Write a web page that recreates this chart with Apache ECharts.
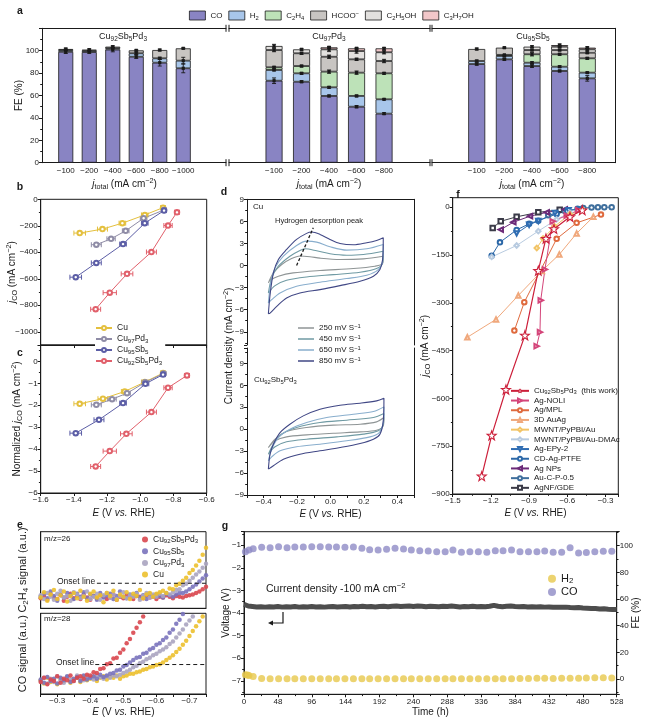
<!DOCTYPE html>
<html>
<head>
<meta charset="utf-8">
<script src="https://cdn.jsdelivr.net/npm/echarts@6/dist/echarts.min.js"></script>
<style>html,body{margin:0;padding:0;background:#fff;}#chart{width:651px;height:721px;}</style>
</head>
<body>
<div id="chart"></div>
<script>
// ================= DATA =================
// ---- Panel a: FE (%) stacked bars ----
const aCats1 = ['-100','-200','-400','-600','-800','-1000'];
const aCats2 = ['-100','-200','-400','-600','-800'];
const aCats3 = ['-100','-200','-400','-600','-800'];
const aProducts = ['CO','H_{2}','C_{2}H_{4}','HCOO^{−}','C_{2}H_{5}OH','C_{3}H_{7}OH'];
const aGroupNames = ['Cu_{92}Sb_{5}Pd_{3}','Cu_{97}Pd_{3}','Cu_{95}Sb_{5}'];
// Cu92Sb5Pd3
const a1CO=[99.0,98.8,101.0,94.6,89.3,84.3], a1H2=[1.5,1.2,1.2,3.1,3.9,6.8], a1C2H4=[0,0,0,0,0,0],
      a1HCOO=[1.0,0.9,1.4,2.6,7.4,11.0], a1C2H5OH=[0,0,0,0,0,0], a1C3H7OH=[0,0,0,0,0,0];
const a1COe=[1.5,1.2,2.0,1.5,3.0,4.0], a1H2e=[0,0,0,1.0,1.0,3.0], a1C2H4e=[0,0,0,0,0,0],
      a1HCOOe=[0.8,0.8,0.8,0.5,0.8,0.5], a1C2H5OHe=[0,0,0,0,0,0], a1C3H7OHe=[0,0,0,0,0,0];
// Cu97Pd3
const a2CO=[73.2,72.3,59.6,50.0,43.8], a2H2=[9.6,7.5,7.7,9.6,12.8], a2C2H4=[2.4,6.5,14.0,20.8,23.2],
      a2HCOO=[15.4,11.4,13.3,11.9,11.0], a2C2H5OH=[3.6,3.5,6.6,7.4,7.8], a2C3H7OH=[0,0,1.8,2.4,3.5];
const a2COe=[2.5,0.8,0.8,1.0,0.8], a2H2e=[0.8,0.8,0.8,0.8,0.5], a2C2H4e=[0.8,0.8,1.5,1.5,0.8],
      a2HCOOe=[1.5,1.0,1.5,1.0,1.5], a2C2H5OHe=[1.5,0.8,2.0,2.0,1.5], a2C3H7OHe=[0,0,0.8,0.8,0.8];
// Cu95Sb5
const a3CO=[88.1,92.3,86.3,81.9,75.3], a3H2=[2.7,3.0,3.0,3.8,5.1], a3C2H4=[0,1.0,7.5,11.1,12.8],
      a3HCOO=[10.7,6.4,3.8,3.8,5.0], a3C2H5OH=[0,0,3.0,3.0,3.0], a3C3H7OH=[0,0,0,1.4,1.5];
const a3COe=[1.0,0.8,1.2,0.8,2.5], a3H2e=[0.8,0.8,0.8,0.8,0.5], a3C2H4e=[0,0,1.5,0.8,0.8],
      a3HCOOe=[0.8,0.5,0.8,0.8,0.8], a3C2H5OHe=[0,0,0.8,0.8,0.8], a3C3H7OHe=[0,0,0,1.0,0.8];

// ---- Panels b, c ----
const bcNames = ['Cu','Cu_{97}Pd_{3}','Cu_{95}Sb_{5}','Cu_{92}Sb_{5}Pd_{3}'];
const bCu     = [[-1.365,-255],[-1.228,-225],[-1.108,-180],[-0.973,-118],[-0.863,-63]];
const bCuPd   = [[-1.265,-343],[-1.176,-298],[-1.088,-238],[-0.980,-143],[-0.857,-80]];
const bCuSb   = [[-1.389,-588],[-1.265,-480],[-1.104,-338],[-0.973,-180],[-0.857,-85]];
const bCuSbPd = [[-1.269,-830],[-1.184,-705],[-1.080,-563],[-0.933,-398],[-0.833,-198],[-0.779,-98]];
const bErr = [[0.035,0.03,0.02,0.02,0.015],[0.03,0.025,0.02,0.02,0.015],[0.035,0.03,0.02,0.02,0.015],[0.03,0.04,0.035,0.03,0.025,0.015]];
const cCu     = [[-1.365,-1.93],[-1.225,-1.70],[-1.094,-1.37],[-0.973,-0.94],[-0.863,-0.53]];
const cCuPd   = [[-1.265,-1.98],[-1.170,-1.72],[-1.080,-1.45],[-0.970,-0.95],[-0.860,-0.55]];
const cCuSb   = [[-1.389,-3.27],[-1.249,-2.66],[-1.104,-1.90],[-0.969,-1.02],[-0.863,-0.60]];
const cCuSbPd = [[-1.269,-4.79],[-1.184,-4.09],[-1.084,-3.30],[-0.933,-2.31],[-0.833,-1.20],[-0.719,-0.64]];
const cErr = [[0.035,0.03,0.02,0.02,0.015],[0.03,0.025,0.02,0.02,0.015],[0.035,0.03,0.02,0.02,0.015],[0.03,0.04,0.035,0.03,0.025,0.015]];

// ---- Panel d: CV loops ----
const dRates = ['250 mV S^{−1}','450 mV S^{−1}','650 mV S^{−1}','850 mV S^{−1}'];
const dCu250 = [[-0.372,-2.36],[-0.342,-1.0],[-0.292,0.14],[-0.233,0.95],[-0.183,1.3],[-0.123,1.2],[-0.063,1.0],[0.057,0.82],[0.197,0.91],[0.316,1.27],
  [0.312,0.27],[0.266,-0.09],[0.137,-0.41],[-0.063,-0.68],[-0.223,-1.0],[-0.312,-1.45],[-0.362,-2.0],[-0.372,-2.36]];
const dCu450 = [[-0.372,-3.73],[-0.352,-1.68],[-0.312,-0.09],[-0.243,1.27],[-0.183,2.05],[-0.153,2.27],[-0.083,2.0],[-0.003,1.6],[0.097,1.4],[0.197,1.5],[0.316,1.95],
  [0.312,0.36],[0.276,-0.41],[0.177,-0.91],[0.017,-1.23],[-0.143,-1.55],[-0.263,-2.0],[-0.332,-2.73],[-0.372,-3.73]];
const dCu650 = [[-0.372,-5.1],[-0.358,-2.4],[-0.332,-0.32],[-0.282,1.27],[-0.203,2.73],[-0.143,3.32],[-0.083,3.18],[-0.003,2.55],[0.097,2.09],[0.217,2.27],[0.316,2.86],
  [0.312,0.59],[0.286,-0.55],[0.217,-1.32],[0.097,-1.77],[-0.063,-2.27],[-0.203,-2.82],[-0.302,-3.73],[-0.352,-4.64],[-0.372,-5.1]];
const dCu850 = [[-0.372,-6.55],[-0.362,-4.0],[-0.342,-1.0],[-0.312,0.82],[-0.263,2.18],[-0.203,3.55],[-0.143,4.37],[-0.113,4.55],[-0.063,4.23],[-0.003,3.55],[0.057,3.0],[0.137,2.82],[0.217,3.1],[0.276,3.41],[0.316,3.77],
  [0.312,0.82],[0.296,-0.55],[0.257,-1.45],[0.177,-2.14],[0.057,-2.73],[-0.063,-3.27],[-0.183,-3.73],[-0.263,-4.41],[-0.322,-5.55],[-0.362,-6.46],[-0.372,-6.55]];
const dAl250 = [[-0.372,-2.51],[-0.332,-1.37],[-0.263,-0.32],[-0.143,0.23],[0.017,0.55],[0.177,0.68],[0.276,1.0],[0.320,1.59],
  [0.316,0.46],[0.276,-0.14],[0.177,-0.37],[0.017,-0.55],[-0.143,-0.78],[-0.263,-1.05],[-0.332,-1.59],[-0.372,-2.51]];
const dAl450 = [[-0.372,-3.42],[-0.342,-2.05],[-0.292,-0.68],[-0.203,0.23],[-0.063,0.91],[0.097,1.23],[0.257,1.59],[0.320,2.14],
  [0.316,0.68],[0.286,-0.23],[0.197,-0.68],[0.037,-1.05],[-0.143,-1.37],[-0.263,-1.73],[-0.332,-2.41],[-0.372,-3.42]];
const dAl650 = [[-0.372,-4.32],[-0.352,-2.73],[-0.312,-1.14],[-0.243,0.0],[-0.143,0.91],[-0.023,1.59],[0.137,2.05],[0.257,2.41],[0.320,3.05],
  [0.316,0.91],[0.292,-0.46],[0.237,-1.05],[0.097,-1.59],[-0.063,-2.05],[-0.203,-2.41],[-0.302,-2.96],[-0.352,-3.78],[-0.372,-4.32]];
const dAl850 = [[-0.372,-5.46],[-0.362,-3.42],[-0.342,-2.05],[-0.302,-0.46],[-0.243,0.68],[-0.163,1.82],[-0.063,2.73],[0.057,3.28],[0.177,3.55],[0.276,3.87],[0.320,4.23],
  [0.316,1.14],[0.296,-0.68],[0.257,-1.37],[0.177,-1.96],[0.057,-2.51],[-0.063,-2.96],[-0.183,-3.42],[-0.282,-4.1],[-0.342,-5.0],[-0.372,-5.46]];
const dPeakLine = [[-0.203,0.0],[-0.103,5.14]];

// ---- Panel e: DEMS signals (x: E vs RHE, y: signal a.u.) ----
const eX = [-0.25,-0.26,-0.27,-0.28,-0.29,-0.30,-0.31,-0.32,-0.33,-0.34,-0.35,-0.36,-0.37,-0.38,-0.39,-0.40,-0.41,-0.42,-0.43,-0.44,-0.45,-0.46,-0.47,-0.48,-0.49,-0.50,-0.51,-0.52,-0.53,-0.54,-0.55,-0.56,-0.57,-0.58,-0.59,-0.60,-0.61,-0.62,-0.63,-0.64,-0.65,-0.66,-0.67,-0.68,-0.69,-0.70,-0.71,-0.72,-0.73,-0.74,-0.75];
const eNames = ['Cu_{92}Sb_{5}Pd_{3}','Cu_{95}Sb_{5}','Cu_{97}Pd_{3}','Cu'];
const eTopCuSbPd = [1.3,1.6,1.1,1.8,1.4,1.2,1.7,1.0,1.5,1.9,1.3,1.6,1.2,1.8,1.4,1.1,1.6,1.3,1.7,1.5,1.2,1.4,1.8,1.1,1.5,1.3,1.7,1.4,1.2,1.6,1.5,1.3,1.7,1.4,1.6,1.2,1.5,1.4,1.7,1.5,1.3,1.6,1.5,1.4,1.6,1.7,1.8,2.0,2.2,2.5,2.8];
const eTopCuSb   = [1.5,1.9,1.3,2.2,1.6,1.0,1.8,1.4,2.0,1.7,1.2,1.9,1.5,2.1,1.3,1.8,1.6,1.1,2.0,1.4,1.7,1.9,1.2,1.6,2.2,1.5,1.3,1.8,1.6,2.0,1.4,1.7,1.2,1.9,1.5,1.8,1.6,1.4,1.9,1.7,1.5,1.8,2.0,2.0,2.2,2.5,2.8,3.1,3.5,3.9,4.3];
const eTopCuPd   = [1.7,1.2,2.0,1.5,1.1,1.9,2.3,1.4,1.6,1.0,2.1,1.8,1.3,1.6,2.2,1.2,1.5,1.9,1.1,1.7,2.0,1.4,1.8,1.2,1.6,2.1,1.3,1.7,1.5,1.9,1.1,1.6,2.0,1.4,1.8,1.5,1.9,1.6,2.0,1.8,2.1,2.4,2.5,3.0,3.2,3.6,4.0,4.4,4.8,5.3,5.8];
const eTopCu     = [1.4,2.1,1.0,1.8,2.4,1.2,1.7,2.2,0.9,1.6,2.0,1.3,2.3,1.5,1.0,1.9,2.2,1.4,1.7,0.8,2.0,1.6,2.3,1.1,1.8,1.5,2.1,1.2,1.9,1.6,2.4,1.3,1.8,2.0,1.5,1.9,2.1,2.3,2.0,2.6,2.5,3.0,3.2,3.6,4.0,4.6,5.0,5.6,6.2,7.0,7.9];
const eBotCuSbPd = [1.5,2.0,1.2,1.8,1.6,2.2,1.4,1.9,1.7,2.3,1.6,2.0,2.2,1.9,2.4,2.3,2.7,2.6,3.1,3.2,3.7,3.8,4.4,4.5,5.1,5.5,6.3,6.8,7.6,8.2,8.9,9.6];
const eBotCuSb   = [1.8,1.4,2.1,1.6,1.9,1.3,2.0,1.7,2.2,1.5,1.9,2.1,1.6,2.3,1.8,2.0,2.2,1.9,2.4,2.1,2.3,2.5,2.6,2.9,3.0,3.4,3.6,3.9,4.2,4.5,4.6,5.0,5.1,5.5,5.7,6.1,6.3,6.7,7.0,7.6,8.0,8.7,9.2,9.9];
const eBotCuPd   = [1.6,2.0,1.3,1.9,1.5,2.2,1.7,1.4,2.1,1.8,1.6,2.3,1.9,1.7,2.2,2.0,1.8,2.3,2.1,1.9,2.2,2.0,2.3,2.2,2.4,2.6,2.8,3.0,3.3,3.5,3.8,4.0,4.3,4.5,4.8,5.0,5.3,5.5,5.8,6.2,6.5,7.0,7.5,8.0,8.6,9.1,9.6];
const eBotCu     = [1.7,1.3,2.0,1.5,1.8,1.2,1.9,1.6,2.1,1.4,1.8,2.0,1.5,2.2,1.7,1.9,2.1,1.6,2.0,2.2,1.8,2.1,2.0,2.3,1.9,2.2,2.3,2.5,2.5,2.7,2.8,3.0,3.1,3.3,3.4,3.6,3.7,3.9,4.2,4.5,4.8,5.2,5.6,6.1,6.6,7.2,7.8,8.4,9.0,9.6];
const eOnsetTop = [[-0.42,3.27],[-0.75,3.27]];
const eOnsetBot = [[-0.415,3.65],[-0.75,3.65]];

// ---- Panel f: benchmark j_CO vs E ----
const fNames = ['Cu_{92}Sb_{5}Pd_{3}  (this work)','Ag-NOLI','Ag/MPL','3D AuAg','MWNT/PyPBI/Au','MWNT/PyPBI/Au-DMAc','Ag-EPy-2','CD-Ag-PTFE','Ag NPs','Au-C-P-0.5','AgNF/GDE'];
const fCuSbPd = [[-1.272,-844],[-1.194,-716],[-1.082,-572],[-0.933,-402],[-0.828,-199],[-0.768,-98],[-0.705,-68],[-0.579,-30],[-0.483,-9]];
const fAgNOLI = [[-0.841,-436],[-0.815,-392],[-0.809,-292],[-0.776,-195],[-0.715,-44],[-0.605,-26],[-0.514,-9]];
const fAgMPL  = [[-1.016,-387],[-0.938,-298],[-0.684,-99],[-0.527,-49],[-0.336,-23]];
const fAuAg3D = [[-1.385,-408],[-1.160,-352],[-0.985,-277],[-0.800,-200],[-0.663,-148],[-0.527,-82],[-0.396,-30]];
const fMWNTAu = [[-0.840,-128],[-0.790,-98],[-0.700,-60],[-0.580,-22],[-0.480,-8]];
const fMWNTDMAc = [[-1.194,-156],[-0.998,-120],[-0.828,-75],[-0.684,-38],[-0.580,-17]];
const fAgEPy  = [[-0.998,-82],[-0.900,-55],[-0.828,-43],[-0.697,-18],[-0.590,-9],[-0.500,-7]];
const fCDAg   = [[-1.194,-152],[-1.129,-110],[-0.998,-71],[-0.900,-52],[-0.828,-42],[-0.684,-21],[-0.600,-12]];
const fAgNPs  = [[-1.123,-70],[-1.024,-47],[-0.893,-28],[-0.762,-16],[-0.620,-7]];
const fAuCP   = [[-0.750,-25],[-0.620,-12],[-0.520,-5],[-0.475,-2],[-0.410,-1],[-0.360,0],[-0.310,0],[-0.252,0]];
const fAgNF   = [[-1.186,-65],[-1.123,-44],[-0.998,-30],[-0.828,-16],[-0.660,-8]];

// ---- Panel g: stability ----
const gVoltage = [[0,-3.62],[6,-3.69],[12,-3.71],[18,-3.73],[24,-3.72],[30,-3.74],[36,-3.72],[42,-3.73],[48,-3.71],[54,-3.74],[60,-3.72],[66,-3.73],[72,-3.71],[78,-3.74],[84,-3.72],[90,-3.73],[96,-3.71],[102,-3.73],[108,-3.72],[114,-3.74],[120,-3.72],[126,-3.71],[132,-3.73],[138,-3.72],[144,-3.71],[150,-3.73],[156,-3.71],[162,-3.72],[168,-3.70],[174,-3.72],[180,-3.71],[186,-3.73],[192,-3.71],[198,-3.70],[204,-3.72],[210,-3.70],[216,-3.69],[222,-3.71],[228,-3.70],[234,-3.69],[240,-3.71],[246,-3.69],[252,-3.70],[258,-3.72],[264,-3.70],[270,-3.71],[276,-3.72],[282,-3.70],[288,-3.71],[294,-3.69],[300,-3.71],[306,-3.73],[312,-3.71],[318,-3.72],[324,-3.70],[330,-3.72],[336,-3.71],[342,-3.72],[348,-3.70],[354,-3.66],[360,-3.70],[366,-3.72],[372,-3.70],[378,-3.69],[384,-3.71],[390,-3.72],[396,-3.71],[402,-3.73],[408,-3.72],[414,-3.73],[420,-3.72],[426,-3.74],[432,-3.73],[438,-3.75],[444,-3.74],[450,-3.75],[456,-3.74],[462,-3.76],[468,-3.77],[474,-3.76],[480,-3.78],[486,-3.79],[492,-3.80],[498,-3.80],[504,-3.82],[510,-3.81],[516,-3.83],[522,-3.84],[528,-3.85]];
const gCO = [[2,95.5],[7,96.8],[13,97.8],[25,98.8],[37,98.5],[49,99.3],[61,98.5],[72,99.0],[84,99.0],[96,99.3],[108,99.3],[120,99.0],[131,99.0],[143,98.8],[155,99.0],[167,98.0],[178,97.0],[190,96.8],[202,97.3],[214,98.0],[226,97.5],[237,96.8],[249,96.3],[261,96.0],[273,95.5],[285,95.5],[296,96.8],[308,95.0],[320,95.5],[332,95.5],[344,95.0],[356,96.3],[367,96.3],[379,96.8],[391,95.5],[403,95.5],[415,95.5],[426,96.0],[438,95.0],[450,95.0],[462,98.5],[474,94.5],[485,94.8],[497,95.5],[509,95.8],[521,95.8]];
const gH2 = [[2,3.2],[5,3.0],[7,2.6],[13,1.8],[25,0.3],[37,0.2],[49,0.2],[61,0.1],[72,0.1],[84,0.1],[96,0.2],[108,0.1],[120,0.1],[131,0.1],[143,0.1],[155,0.2],[167,0.1],[178,0.1],[190,0.2],[202,0.1],[214,0.1],[226,0.1],[237,0.1],[249,0.1],[261,0.1],[273,0.1],[285,0.1],[296,0.1],[308,0.1],[320,0.1],[332,0.1],[344,0.1],[356,0.1],[367,0.2],[379,0.2],[391,0.3],[403,0.4],[415,0.5],[426,0.5],[438,0.4],[450,0.5],[462,0.5],[474,0.6],[485,0.7],[497,1.0],[509,0.9],[521,0.7]];

// ================= STYLE =================
const FONT = '"Liberation Sans", Arial, "DejaVu Sans", sans-serif';
const INK = '#1a1a1a';
const aColors = ['#8984c3','#a8c6ea','#bde2b8','#c8c5c2','#e2e0de','#f2c7c9'];
const bcColors = ['#e4c03e','#8f8ca6','#5c5ea6','#e1606b'];
const dColors = ['#8f9596','#6f9aa3','#89aecd','#404785'];
const eColors = ['#d9474f','#7a73bd','#aaa4c0','#ecc02e'];
const fColors = ['#cc1f3a','#d4457a','#df6a3e','#f0a87c','#f2c466','#b8cbe0','#2f6db3','#2c68a8','#6b2a78','#3f6f9d','#3b3b48'];
const STAR = 'path://M0,-10 L2.35,-3.24 L9.51,-3.09 L3.8,1.24 L5.88,8.09 L0,4 L-5.88,8.09 L-3.8,1.24 L-9.51,-3.09 L-2.35,-3.24 Z';
const fSym = [STAR,'emptyTriangle','emptyCircle','emptyTriangle','emptyDiamond','emptyDiamond','emptyTriangle','emptyCircle','emptyTriangle','emptyCircle','emptyRect'];
const fRot = [0,-90,0,0,0,0,180,0,90,0,0];

function rich(size){
  const ss = +(size*0.72).toFixed(1);
  return {
    s:{fontSize:ss, lineHeight:ss, verticalAlign:'bottom', fontFamily:FONT, color:INK},
    p:{fontSize:ss, lineHeight:ss, verticalAlign:'top', fontFamily:FONT, color:INK},
    i:{fontSize:size, fontStyle:'italic', fontFamily:FONT, color:INK}
  };
}
function chem(s){ return s.replace(/_\{([^}]*)\}/g,'{s|$1}').replace(/\^\{([^}]*)\}/g,'{p|$1}'); }
function strip(n){ return chem(n.replace(/^[a-z]+#/,'')); }
function numFmt(d){ return v => (v < 0 ? '−' : '') + Math.abs(v).toFixed(d); }
const line1 = {show:true, onZero:false, lineStyle:{color:INK, width:1}};
const noShow = {show:false};
const tickOut = {show:true, length:3, lineStyle:{color:INK, width:1}};
const minor2 = {show:true, splitNumber:2, length:1.8, lineStyle:{color:INK, width:1}};
function lbl(extra){ return Object.assign({color:INK, fontSize:8, fontFamily:FONT, margin:3}, extra || {}); }
function nameStyle(size){ size = size || 10; return {color:INK, fontSize:size, fontFamily:FONT, lineHeight:size+3, rich:rich(size)}; }
const jTotal = '{i|j}{s|total} (mA cm{p|−2})';
const jCO = '{i|j}{s|CO} (mA cm{p|−2})';
const EName = '{i|E} (V {i|vs.} RHE)';

const grids = [], xAxes = [], yAxes = [], series = [], legends = [], graphics = [];
const G = o => (grids.push(Object.assign({outerBoundsMode:'none'}, o)), grids.length - 1);
const X = o => (xAxes.push(Object.assign({nameMoveOverlap:false}, o)), xAxes.length - 1);
const Y = o => (yAxes.push(Object.assign({nameMoveOverlap:false}, o)), yAxes.length - 1);

function vErr(params, api){
  const x = api.value(0), y = api.value(1), e = api.value(2);
  const c = api.coord([x, y]);
  const kids = [];
  if (e > 0) {
    const hi = api.coord([x, y + e])[1], lo = api.coord([x, y - e])[1];
    kids.push({type:'line', shape:{x1:c[0], y1:hi, x2:c[0], y2:lo}, style:{stroke:INK, lineWidth:0.9}});
    kids.push({type:'line', shape:{x1:c[0]-2, y1:hi, x2:c[0]+2, y2:hi}, style:{stroke:INK, lineWidth:0.9}});
    kids.push({type:'line', shape:{x1:c[0]-2, y1:lo, x2:c[0]+2, y2:lo}, style:{stroke:INK, lineWidth:0.9}});
  }
  kids.push({type:'rect', shape:{x:c[0]-1.6, y:c[1]-1.6, width:3.2, height:3.2}, style:{fill:INK}});
  return {type:'group', children:kids};
}
function hErr(params, api){
  const x = api.value(0), y = api.value(1), e = api.value(2);
  const col = api.visual('color');
  const l = api.coord([x - e, y]), r = api.coord([x + e, y]);
  return {type:'group', children:[
    {type:'line', shape:{x1:l[0], y1:l[1], x2:r[0], y2:r[1]}, style:{stroke:col, lineWidth:1}},
    {type:'line', shape:{x1:l[0], y1:l[1]-2.5, x2:l[0], y2:l[1]+2.5}, style:{stroke:col, lineWidth:1}},
    {type:'line', shape:{x1:r[0], y1:r[1]-2.5, x2:r[0], y2:r[1]+2.5}, style:{stroke:col, lineWidth:1}}
  ]};
}

// ================= PANEL a =================
const aTop = 28.3, aH = 134.4;
[[42,184],[229,201],[432,183]].forEach((f, gi) => {
  const g = G({left:f[0], top:aTop, width:f[1], height:aH});
  X({type:'value', gridIndex:g, min:0, max:1, position:'bottom', axisLine:line1, axisTick:noShow, axisLabel:noShow, splitLine:noShow});
  X({type:'value', gridIndex:g, min:0, max:1, position:'top', axisLine:line1, axisTick:noShow, axisLabel:noShow, splitLine:noShow});
  if (gi === 0) Y({type:'value', gridIndex:g, min:0, max:120, interval:20, axisLine:line1, axisTick:tickOut, minorTick:minor2,
      axisLabel:lbl({showMaxLabel:false, formatter:numFmt(0)}), splitLine:noShow,
      name:'FE (%)', nameLocation:'middle', nameGap:16, nameTextStyle:nameStyle(10)});
  else Y({type:'value', gridIndex:g, min:0, max:120, show:false});
  if (gi === 2) Y({type:'value', gridIndex:g, min:0, max:120, position:'right', axisLine:line1, axisTick:noShow, axisLabel:noShow, splitLine:noShow});
});
const aGroups = [
  {left:54, width:141, cats:aCats1, bw:15, vals:[a1CO,a1H2,a1C2H4,a1HCOO,a1C2H5OH,a1C3H7OH], errs:[a1COe,a1H2e,a1C2H4e,a1HCOOe,a1C2H5OHe,a1C3H7OHe]},
  {left:260.3, width:137.5, cats:aCats2, bw:17, vals:[a2CO,a2H2,a2C2H4,a2HCOO,a2C2H5OH,a2C3H7OH], errs:[a2COe,a2H2e,a2C2H4e,a2HCOOe,a2C2H5OHe,a2C3H7OHe]},
  {left:462.9, width:138.2, cats:aCats3, bw:17, vals:[a3CO,a3H2,a3C2H4,a3HCOO,a3C2H5OH,a3C3H7OH], errs:[a3COe,a3H2e,a3C2H4e,a3HCOOe,a3C2H5OHe,a3C3H7OHe]}
];
aGroups.forEach((gr, gi) => {
  const g = G({left:gr.left, top:aTop, width:gr.width, height:aH});
  const xi = X({type:'category', gridIndex:g, data:gr.cats, axisLine:noShow, axisTick:noShow,
      axisLabel:lbl({interval:0, margin:4, formatter:v => v.replace('-', '−')}), splitLine:noShow,
      name:jTotal, nameLocation:'middle', nameGap:15, nameTextStyle:nameStyle(10)});
  const yi = Y({type:'value', gridIndex:g, min:0, max:120, show:false});
  gr.vals.forEach((arr, k) => series.push({type:'bar', name:aProducts[k], xAxisIndex:xi, yAxisIndex:yi, stack:'a'+gi,
      barWidth:gr.bw, data:arr.map(v => v > 0 ? v : '-'),
      itemStyle:{color:aColors[k], borderColor:INK, borderWidth:0.8}}));
  const pts = [];
  gr.cats.forEach((c, i) => { let acc = 0; gr.vals.forEach((arr, k) => { if (arr[i] > 0) { acc += arr[i]; pts.push([i, acc, gr.errs[k][i]]); } }); });
  series.push({type:'custom', xAxisIndex:xi, yAxisIndex:yi, renderItem:vErr, data:pts, z:5, silent:true});
});
legends.push({data:aProducts, left:189, top:10, padding:0, itemWidth:16, itemHeight:9, itemGap:6, icon:'rect', selectedMode:false,
  itemStyle:{borderColor:INK, borderWidth:0.8}, formatter:n => chem(n),
  textStyle:{fontSize:8, fontFamily:FONT, color:INK, lineHeight:11, rich:rich(8)}});

// ================= PANELS b, c =================
const gb = G({left:40.7, top:199.3, width:166, height:145.7, show:true, borderColor:INK, borderWidth:1});
const xb = X({type:'value', gridIndex:gb, min:-1.6, max:-0.6, interval:0.2, axisLine:line1, axisTick:tickOut, axisLabel:noShow, splitLine:noShow});
const yb = Y({type:'value', gridIndex:gb, min:-1100, max:0, splitNumber:5, axisLine:line1, axisTick:tickOut, minorTick:minor2,
  axisLabel:lbl({showMinLabel:false, formatter:numFmt(0)}), splitLine:noShow,
  name:jCO, nameLocation:'middle', nameGap:22, nameTextStyle:nameStyle(10)});
const gc = G({left:40.7, top:345, width:166, height:148, show:true, borderColor:INK, borderWidth:1});
const xc = X({type:'value', gridIndex:gc, min:-1.6, max:-0.6, interval:0.2, axisLine:line1, axisTick:tickOut,
  axisLabel:lbl({formatter:numFmt(1)}), splitLine:noShow, name:EName, nameLocation:'middle', nameGap:14, nameTextStyle:nameStyle(10)});
const yc = Y({type:'value', gridIndex:gc, min:-6, max:0.75, interval:1, axisLine:line1, axisTick:tickOut, minorTick:minor2,
  axisLabel:lbl({showMaxLabel:false, formatter:numFmt(0)}), splitLine:noShow,
  name:'Normalized ' + jCO, nameLocation:'middle', nameGap:17, nameTextStyle:nameStyle(10)});
const bSets = [bCu, bCuPd, bCuSb, bCuSbPd], cSets = [cCu, cCuPd, cCuSb, cCuSbPd];
bcNames.forEach((n, k) => {
  [[xb, yb, bSets[k], bErr[k]], [xc, yc, cSets[k], cErr[k]]].forEach(([xi, yi, data, err]) => {
    series.push({type:'custom', xAxisIndex:xi, yAxisIndex:yi, renderItem:hErr, itemStyle:{color:bcColors[k]},
      data:data.map((p, i) => [p[0], p[1], err[i]]), z:2, silent:true});
    series.push({type:'line', name:'bc#' + n, xAxisIndex:xi, yAxisIndex:yi, data:data, color:bcColors[k],
      symbol:'emptyCircle', symbolSize:4.5, itemStyle:{color:bcColors[k], borderWidth:1}, lineStyle:{color:bcColors[k], width:1}, z:3});
  });
});
legends.push({data:bcNames.map(n => 'bc#' + n), left:95, top:323, orient:'vertical', padding:[0,3,0,0], backgroundColor:'#fff',
  itemWidth:16, itemHeight:5, itemGap:1, selectedMode:false, formatter:strip, itemStyle:{borderWidth:1},
  textStyle:{fontSize:8.5, fontFamily:FONT, color:INK, lineHeight:10, rich:rich(8.5)}});

// ================= PANEL d =================
const gdt = G({left:247, top:199.3, width:167, height:145.7});
const xdt = X({type:'value', gridIndex:gdt, min:-0.5, max:0.5, show:false});
X({type:'value', gridIndex:gdt, min:-0.5, max:0.5, position:'top', axisLine:line1, axisTick:noShow, axisLabel:noShow, splitLine:noShow});
const ydt = Y({type:'value', gridIndex:gdt, min:-10.8, max:9, splitNumber:7, axisLine:line1, axisTick:tickOut, minorTick:minor2,
  axisLabel:lbl({showMinLabel:false, showMaxLabel:true, formatter:numFmt(0)}), splitLine:noShow});
Y({type:'value', gridIndex:gdt, min:-10.8, max:9, position:'right', axisLine:line1, axisTick:noShow, axisLabel:noShow, splitLine:noShow});
const gdb = G({left:247, top:348, width:167, height:147});
const xdb = X({type:'value', gridIndex:gdb, min:-0.5, max:0.5, interval:0.1, axisLine:line1, axisTick:tickOut,
  axisLabel:lbl({formatter:v => (Math.round(v*10) % 2 === 0) ? numFmt(1)(v) : ''}), splitLine:noShow,
  name:EName, nameLocation:'middle', nameGap:13, nameTextStyle:nameStyle(10)});
const ydb = Y({type:'value', gridIndex:gdb, min:-9, max:11.1, interval:3, axisLine:line1, axisTick:tickOut, minorTick:minor2,
  axisLabel:lbl({showMaxLabel:false, formatter:numFmt(0)}), splitLine:noShow});
Y({type:'value', gridIndex:gdb, min:-9, max:11.1, position:'right', axisLine:line1, axisTick:noShow, axisLabel:noShow, splitLine:noShow});
const dTop = [dCu250, dCu450, dCu650, dCu850], dBot = [dAl250, dAl450, dAl650, dAl850];
dRates.forEach((r, k) => {
  series.push({type:'line', name:'d#' + r, xAxisIndex:xdt, yAxisIndex:ydt, data:dTop[k], smooth:0.3, symbol:'none', color:dColors[k], lineStyle:{color:dColors[k], width:1.1}});
  series.push({type:'line', name:'d#' + r, xAxisIndex:xdb, yAxisIndex:ydb, data:dBot[k], smooth:0.3, symbol:'none', color:dColors[k], lineStyle:{color:dColors[k], width:1.1}});
});
series.push({type:'line', xAxisIndex:xdt, yAxisIndex:ydt, data:dPeakLine, symbol:'none', lineStyle:{color:INK, width:1.3, type:[3,2]}, z:4, silent:true});
legends.push({data:dRates.map(r => 'd#' + r), left:298, top:323, orient:'vertical', padding:[0,3,0,0], backgroundColor:'#fff',
  icon:'rect', itemWidth:16, itemHeight:1.5, itemGap:1, selectedMode:false, formatter:strip,
  textStyle:{fontSize:8, fontFamily:FONT, color:INK, lineHeight:10, rich:rich(8)}});

// ================= PANEL f =================
const gf = G({left:452.7, top:197.7, width:165.6, height:296.3, show:true, borderColor:INK, borderWidth:1});
const xf = X({type:'value', gridIndex:gf, min:-1.5, max:-0.2, interval:0.3, axisLine:line1, axisTick:tickOut, minorTick:minor2,
  axisLabel:lbl({showMaxLabel:false, formatter:numFmt(1)}), splitLine:noShow,
  name:EName, nameLocation:'middle', nameGap:13, nameTextStyle:nameStyle(10)});
const yf = Y({type:'value', gridIndex:gf, min:-900, max:30, interval:150, axisLine:line1, axisTick:tickOut, minorTick:minor2,
  axisLabel:lbl({showMaxLabel:false, formatter:numFmt(0)}), splitLine:noShow,
  name:jCO, nameLocation:'middle', nameGap:21, nameTextStyle:nameStyle(10)});
const fData = [fCuSbPd, fAgNOLI, fAgMPL, fAuAg3D, fMWNTAu, fMWNTDMAc, fAgEPy, fCDAg, fAgNPs, fAuCP, fAgNF];
for (let k = fNames.length - 1; k >= 0; k--) {
  const isStar = k === 0;
  series.push({type:'line', name:'f#' + fNames[k], xAxisIndex:xf, yAxisIndex:yf, data:fData[k],
    symbol:fSym[k], symbolRotate:fRot[k], symbolSize:isStar ? 9 : 4.5, color:fColors[k],
    itemStyle:isStar ? {color:'#fff', borderColor:fColors[k], borderWidth:1.1} : {color:fColors[k], borderWidth:1},
    lineStyle:{color:fColors[k], width:isStar ? 1.2 : 1}, z:isStar ? 6 : 3});
}
legends.push({data:fNames.map(n => 'f#' + n), left:510, top:386, orient:'vertical', padding:0,
  itemWidth:18, itemHeight:5, itemGap:0, selectedMode:false, formatter:strip, itemStyle:{borderWidth:1},
  textStyle:{fontSize:8, fontFamily:FONT, color:INK, lineHeight:9.7, rich:rich(8)}});

// ================= PANEL e =================
const eTopSets = [eTopCuSbPd, eTopCuSb, eTopCuPd, eTopCu];
const eBotSets = [eBotCuSbPd, eBotCuSb, eBotCuPd, eBotCu];
const get = G({left:40.7, top:531.7, width:165.3, height:76.6, show:true, borderColor:INK, borderWidth:1});
const xet = X({type:'value', gridIndex:get, min:-0.75, max:-0.25, inverse:true, interval:0.05, axisLine:line1, axisTick:noShow, axisLabel:noShow, splitLine:noShow});
const yet = Y({type:'value', gridIndex:get, min:0, max:10, axisLine:line1, axisTick:noShow, axisLabel:noShow, splitLine:noShow,
  name:'C{s|2}H{s|4} signal (a.u.)', nameLocation:'middle', nameGap:11, nameTextStyle:nameStyle(11)});
const geb = G({left:40.7, top:613.3, width:165.3, height:80.7, show:true, borderColor:INK, borderWidth:1});
const xeb = X({type:'value', gridIndex:geb, min:-0.75, max:-0.25, inverse:true, interval:0.05, axisLine:line1, axisTick:tickOut,
  axisLabel:lbl({formatter:v => (Math.round(v*20) % 2 === 0) ? numFmt(1)(v) : ''}), splitLine:noShow,
  name:EName, nameLocation:'middle', nameGap:12, nameTextStyle:nameStyle(10)});
const yeb = Y({type:'value', gridIndex:geb, min:0, max:10, axisLine:line1, axisTick:noShow, axisLabel:noShow, splitLine:noShow,
  name:'CO signal (a.u.)', nameLocation:'middle', nameGap:11, nameTextStyle:nameStyle(11)});
[0,1,2,3].forEach(k => {
  series.push({type:'scatter', name:'e#' + eNames[k], xAxisIndex:xet, yAxisIndex:yet, data:eTopSets[k].map((y, i) => [eX[i], y]),
    symbolSize:4.5, itemStyle:{color:eColors[k], opacity:0.9}, z:2 + k});
});
[3,2,1,0].forEach((k, j) => {
  series.push({type:'scatter', name:'e#' + eNames[k], xAxisIndex:xeb, yAxisIndex:yeb, data:eBotSets[k].map((y, i) => [eX[i], y]),
    symbolSize:4.5, itemStyle:{color:eColors[k], opacity:0.9}, z:2 + j});
});
series.push({type:'line', xAxisIndex:xet, yAxisIndex:yet, data:eOnsetTop, symbol:'none', lineStyle:{color:INK, width:1, type:[4,3]}, z:8, silent:true});
series.push({type:'line', xAxisIndex:xeb, yAxisIndex:yeb, data:eOnsetBot, symbol:'none', lineStyle:{color:INK, width:1, type:[4,3]}, z:8, silent:true});
legends.push({data:eNames.map(n => 'e#' + n), left:142, top:534.5, orient:'vertical', padding:0, icon:'circle',
  itemWidth:6, itemHeight:6, itemGap:1.7, selectedMode:false, formatter:strip,
  textStyle:{fontSize:8.5, fontFamily:FONT, color:INK, lineHeight:10, rich:rich(8.5)}});

// ================= PANEL g =================
const gg = G({left:244, top:531.7, width:372.7, height:162.6, show:true, borderColor:INK, borderWidth:1});
const xg = X({type:'value', gridIndex:gg, min:0, max:528, interval:48, axisLine:line1, axisTick:tickOut, minorTick:minor2,
  axisLabel:lbl({formatter:numFmt(0)}), splitLine:noShow, name:'Time (h)', nameLocation:'middle', nameGap:11, nameTextStyle:nameStyle(10)});
const ygl = Y({type:'value', gridIndex:gg, min:-7.6, max:-0.4, splitNumber:7, axisLine:line1, axisTick:tickOut, minorTick:minor2,
  axisLabel:lbl({showMinLabel:false, showMaxLabel:false, formatter:numFmt(0)}), splitLine:noShow,
  name:'Voltage (V)', nameLocation:'middle', nameGap:11, nameTextStyle:nameStyle(10)});
const ygr = Y({type:'value', gridIndex:gg, position:'right', min:-11.5, max:110.5, splitNumber:6, axisLine:line1, axisTick:tickOut, minorTick:minor2,
  axisLabel:lbl({showMinLabel:false, showMaxLabel:false, formatter:numFmt(0)}), splitLine:noShow,
  name:'FE (%)', nameLocation:'middle', nameGap:13, nameTextStyle:nameStyle(10)});
series.push({type:'line', xAxisIndex:xg, yAxisIndex:ygl, data:gVoltage, symbol:'none', lineStyle:{color:'#4d4d4d', width:5}, z:2, silent:true});
series.push({type:'scatter', name:'g#H_{2}', xAxisIndex:xg, yAxisIndex:ygr, data:gH2, symbolSize:7, itemStyle:{color:'#e7c84c'}, z:3});
series.push({type:'scatter', name:'g#CO', xAxisIndex:xg, yAxisIndex:ygr, data:gCO, symbolSize:7, itemStyle:{color:'#8f8bc6'}, z:3});
legends.push({data:['g#H_{2}','g#CO'], left:548, top:572.7, orient:'vertical', padding:0, icon:'circle',
  itemWidth:8, itemHeight:8, itemGap:1.3, selectedMode:false, formatter:strip,
  textStyle:{fontSize:11, fontFamily:FONT, color:INK, lineHeight:12, rich:rich(11)}});

// ================= TEXT ANNOTATIONS =================
function txt(text, x, y, size, extra, el){
  const st = Object.assign({text:text, fill:INK, fontSize:size, fontFamily:FONT, align:'left', verticalAlign:'middle',
    textAlign:'left', textVerticalAlign:'middle', lineHeight:size+3, rich:rich(size)}, extra || {});
  graphics.push(Object.assign({type:'text', x:x, y:y, silent:true, z:50, style:st}, el || {}));
}
const C = {align:'center', textAlign:'center'};
[['a',20,11],['b',20,187],['c',20,353],['d',224,192],['e',20,525],['f',458,195],['g',225,526]].forEach(p =>
  txt(p[0], p[1], p[2], 10.5, Object.assign({fontWeight:'bold'}, C)));
[[123,37],[329,37],[533,37]].forEach((p, i) => txt(chem(aGroupNames[i]), p[0], p[1], 9, C));
txt('Cu', 253, 207, 8);
txt('Hydrogen desorption peak', 319, 221, 7.5, C);
txt(chem('Cu_{92}Sb_{5}Pd_{3}'), 254, 380, 8);
txt('Current density (mA cm{p|−2})', 229, 346, 10, C, {rotation:Math.PI/2});
txt('m/z=26', 44, 539, 8);
txt('m/z=28', 44, 619, 8);
txt('Onset line', 57, 581.5, 8.5);
txt('Onset line', 56, 662.5, 8.5);
txt('Current density -100 mA cm{p|−2}', 266, 589, 10.5);
graphics.push({type:'polyline', silent:true, z:50, shape:{points:[[283,612],[283,623],[272,623]]}, style:{stroke:INK, lineWidth:1.2, fill:null}});
graphics.push({type:'polygon', silent:true, z:50, shape:{points:[[268,623],[273,620.5],[273,625.5]]}, style:{fill:INK}});
// axis break marks in panel a
[226,229,430,432].forEach(x => [aTop, aTop + aH].forEach(y =>
  graphics.push({type:'line', silent:true, z:50, shape:{x1:x, y1:y-3.5, x2:x, y2:y+3.5}, style:{stroke:INK, lineWidth:1}})));

// ================= CHART =================
const chart = echarts.init(document.getElementById('chart'), null, {renderer:'canvas'});
chart.setOption({
  animation:false,
  backgroundColor:'#fff',
  textStyle:{fontFamily:FONT},
  grid:grids, xAxis:xAxes, yAxis:yAxes, series:series, legend:legends, graphic:graphics
});
</script>
</body>
</html>
